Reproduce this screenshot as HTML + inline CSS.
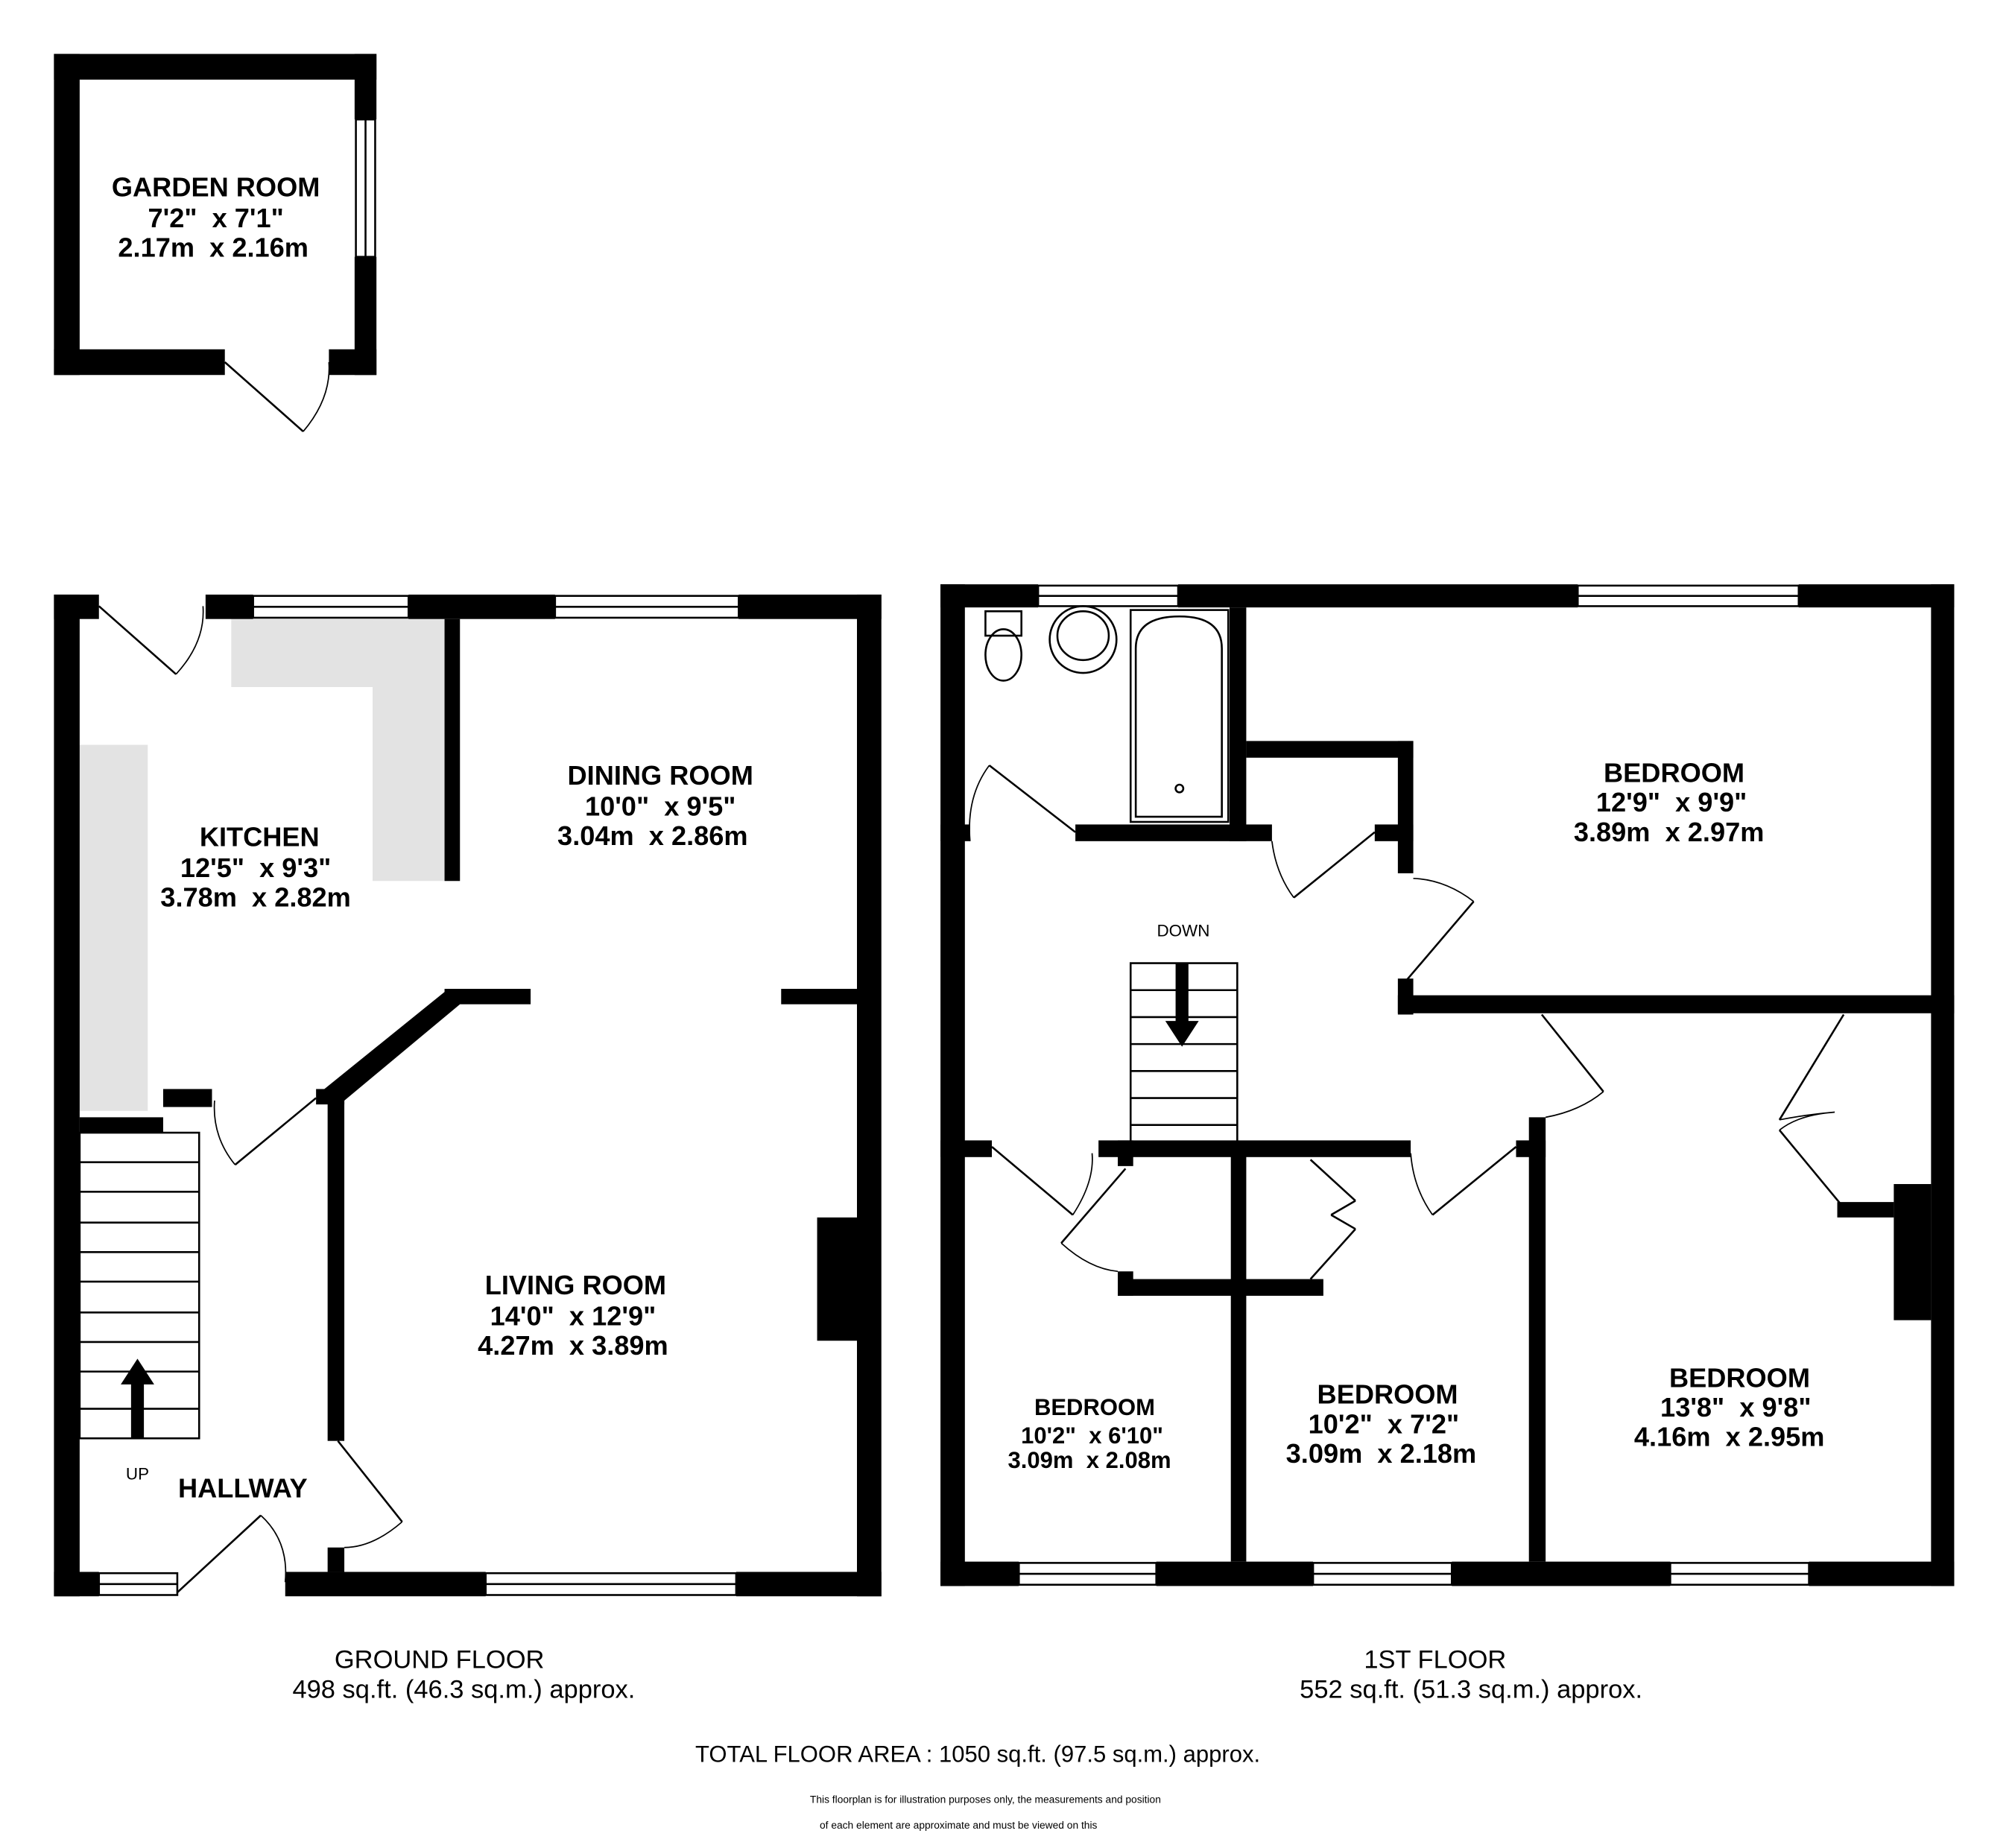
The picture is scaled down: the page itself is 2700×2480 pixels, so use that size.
<!DOCTYPE html>
<html><head><meta charset="utf-8"><style>
html,body{margin:0;padding:0;background:#fff;}
svg{display:block}
text{font-family:"Liberation Sans",Arial,sans-serif;text-anchor:middle;fill:#000;white-space:pre}
.b{font-weight:bold;font-size:21px}
.n{font-size:20px}
</style></head><body>
<svg width="2700" height="2480" viewBox="0 0 1566 1439" preserveAspectRatio="none" xmlns="http://www.w3.org/2000/svg" xml:space="preserve">
<rect width="1566" height="1439" fill="#fff"/>
<g fill="#000">
<rect x="42" y="42" width="251" height="20"/>
<rect x="42" y="42" width="20" height="250"/>
<rect x="276" y="42" width="17" height="51"/>
<rect x="276" y="200" width="17" height="92"/>
<rect x="42" y="272" width="133" height="20"/>
<rect x="256" y="272" width="37" height="20"/>
</g>
<g fill="none" stroke="#000" stroke-width="1.5">
<rect x="277" y="93" width="15" height="107"/><line x1="284.5" y1="93" x2="284.5" y2="200"/>
<line x1="175" y1="282" x2="236" y2="336"/>
<path d="M236 336 Q258 310 256 282" stroke-width="1"/>
</g>
<text class="b" x="168" y="153">GARDEN ROOM</text>
<text class="b" x="168" y="177">7'2"  x 7'1"</text>
<text class="b" x="166" y="200">2.17m  x 2.16m</text>

<rect x="180" y="482" width="166" height="53" fill="#e3e3e3"/>
<rect x="290" y="482" width="56" height="204" fill="#e3e3e3"/>
<rect x="62" y="580" width="53" height="285" fill="#e3e3e3"/>
<g fill="#000">
<rect x="42" y="463" width="35" height="19"/>
<rect x="160" y="463" width="37" height="19"/>
<rect x="318" y="463" width="114" height="19"/>
<rect x="575" y="463" width="111" height="19"/>
<rect x="42" y="463" width="20" height="780"/>
<rect x="667" y="463" width="19" height="780"/>
<rect x="42" y="1224" width="35" height="19"/>
<rect x="222" y="1224" width="156" height="19"/>
<rect x="573" y="1224" width="113" height="19"/>
<rect x="346" y="482" width="12" height="204"/>
<rect x="346" y="770" width="67" height="12"/>
<polygon points="349,770 358,782 262,862 250,850"/>
<rect x="255" y="850" width="13" height="272"/>
<rect x="255" y="1205" width="13" height="19"/>
<rect x="608" y="770" width="59" height="12"/>
<rect x="636" y="948" width="31" height="96"/>
<rect x="62" y="870" width="65" height="12"/>
<rect x="127" y="848" width="38" height="14"/>
<rect x="246" y="848" width="22" height="12"/>
</g>
<g fill="none" stroke="#000" stroke-width="1.5">
<rect x="197" y="464" width="121" height="17"/><line x1="197" y1="472.5" x2="318" y2="472.5"/>
<rect x="432" y="464" width="143" height="17"/><line x1="432" y1="472.5" x2="575" y2="472.5"/>
<rect x="77" y="1225" width="61" height="17"/><line x1="77" y1="1233.5" x2="138" y2="1233.5"/>
<rect x="378" y="1225" width="195" height="17"/><line x1="378" y1="1233.5" x2="573" y2="1233.5"/>
<line x1="77" y1="472" x2="137" y2="525"/><path d="M137 525 Q160 500 158 472" stroke-width="1"/>
<line x1="183" y1="907" x2="246" y2="855"/><path d="M183 907 Q165 885 167 857" stroke-width="1"/>
<line x1="138" y1="1240" x2="203" y2="1180"/><path d="M203 1180 Q225 1200 222 1232" stroke-width="1"/>
<line x1="263" y1="1122" x2="313" y2="1185"/><path d="M313 1185 Q290 1205 268 1205" stroke-width="1"/>
<rect x="62" y="882" width="93" height="238"/>
<line x1="62" y1="905" x2="155" y2="905"/><line x1="62" y1="928" x2="155" y2="928"/>
<line x1="62" y1="952" x2="155" y2="952"/><line x1="62" y1="975" x2="155" y2="975"/>
<line x1="62" y1="998" x2="155" y2="998"/><line x1="62" y1="1022" x2="155" y2="1022"/>
<line x1="62" y1="1045" x2="155" y2="1045"/><line x1="62" y1="1068" x2="155" y2="1068"/>
<line x1="62" y1="1097" x2="155" y2="1097"/>
</g>
<polygon points="107,1058 120,1078 112,1078 112,1120 102,1120 102,1078 94,1078" fill="#000"/>
<text class="b" x="202" y="659">KITCHEN</text>
<text class="b" x="199" y="683">12'5"  x 9'3"</text>
<text class="b" x="199" y="706">3.78m  x 2.82m</text>
<text class="b" x="514" y="611">DINING ROOM</text>
<text class="b" x="514" y="635">10'0"  x 9'5"</text>
<text class="b" x="508" y="658">3.04m  x 2.86m</text>
<text class="b" x="448" y="1008">LIVING ROOM</text>
<text class="b" x="446" y="1032">14'0"  x 12'9"</text>
<text class="b" x="446" y="1055">4.27m  x 3.89m</text>
<text class="b" x="189" y="1166">HALLWAY</text>
<text x="107" y="1152" style="font-size:13px">UP</text>

<g fill="#000">
<rect x="732" y="455" width="76" height="18"/>
<rect x="917" y="455" width="311" height="18"/>
<rect x="1400" y="455" width="121" height="18"/>
<rect x="732" y="455" width="19" height="780"/>
<rect x="1503" y="455" width="18" height="780"/>
<rect x="732" y="1216" width="61" height="19"/>
<rect x="900" y="1216" width="122" height="19"/>
<rect x="1130" y="1216" width="170" height="19"/>
<rect x="1408" y="1216" width="113" height="19"/>
<rect x="837" y="642" width="153" height="13"/>
<rect x="957" y="473" width="13" height="182"/>
<rect x="732" y="642" width="23" height="13"/>
<rect x="970" y="577" width="130" height="13"/>
<rect x="1088" y="577" width="12" height="103"/>
<rect x="1070" y="642" width="30" height="13"/>
<rect x="1088" y="762" width="12" height="28"/>
<rect x="1088" y="775" width="433" height="14"/>
<rect x="1190" y="870" width="13" height="346"/>
<rect x="1180" y="888" width="23" height="13"/>
<rect x="732" y="888" width="40" height="13"/>
<rect x="855" y="888" width="243" height="13"/>
<rect x="870" y="888" width="12" height="20"/>
<rect x="958" y="895" width="12" height="321"/>
<rect x="870" y="996" width="160" height="13"/>
<rect x="870" y="990" width="12" height="19"/>
<rect x="1474" y="922" width="29" height="106"/>
<rect x="1430" y="936" width="44" height="12"/>
</g>
<g fill="none" stroke="#000" stroke-width="1.5">
<rect x="808" y="456" width="109" height="16"/><line x1="808" y1="464" x2="917" y2="464"/>
<rect x="1228" y="456" width="172" height="16"/><line x1="1228" y1="464" x2="1400" y2="464"/>
<rect x="793" y="1217" width="107" height="17"/><line x1="793" y1="1225.5" x2="900" y2="1225.5"/>
<rect x="1022" y="1217" width="108" height="17"/><line x1="1022" y1="1225.5" x2="1130" y2="1225.5"/>
<rect x="1300" y="1217" width="108" height="17"/><line x1="1300" y1="1225.5" x2="1408" y2="1225.5"/>
<path d="M767 476 L795 476 L795 495 L767 495 Z"/>
<ellipse cx="781" cy="510" rx="14" ry="20"/>
<ellipse cx="843" cy="498" rx="26" ry="26"/><ellipse cx="843" cy="495" rx="20" ry="19"/>
<rect x="880" y="475" width="76" height="165"/>
<path d="M884 636 L884 505 Q884 480 918 480 Q951 480 951 505 L951 636 Z"/>
<circle cx="918" cy="614" r="3"/>
<line x1="837" y1="648" x2="770" y2="596"/><path d="M770 596 Q752 620 755 655" stroke-width="1"/>
<line x1="1007" y1="699" x2="1070" y2="648"/><path d="M1007 699 Q993 680 990 655" stroke-width="1"/>
<line x1="1095" y1="763" x2="1147" y2="702"/><path d="M1147 702 Q1125 685 1100 684" stroke-width="1"/>
<line x1="1248" y1="850" x2="1200" y2="790"/><path d="M1203 870 Q1230 865 1248 850" stroke-width="1"/>
<line x1="1385" y1="872" x2="1435" y2="790"/><line x1="1385" y1="880" x2="1433" y2="938"/>
<path d="M1385 872 Q1405 868 1428 866 Q1400 868 1385 880" stroke-width="1"/>
<line x1="772" y1="893" x2="835" y2="946"/><path d="M835 946 Q852 920 850 898" stroke-width="1"/>
<line x1="876" y1="910" x2="826" y2="968"/><path d="M826 968 Q848 988 870 990" stroke-width="1"/>
<line x1="1115" y1="946" x2="1180" y2="893"/><path d="M1115 946 Q1100 925 1098 898" stroke-width="1"/>
<line x1="1020" y1="903" x2="1055" y2="935"/><line x1="1055" y1="935" x2="1036" y2="946"/>
<line x1="1020" y1="996" x2="1055" y2="957"/><line x1="1055" y1="957" x2="1036" y2="946"/>
<rect x="880" y="750" width="83" height="140"/>
<line x1="880" y1="771" x2="963" y2="771"/><line x1="880" y1="792" x2="963" y2="792"/>
<line x1="880" y1="813" x2="963" y2="813"/><line x1="880" y1="834" x2="963" y2="834"/>
<line x1="880" y1="855" x2="963" y2="855"/><line x1="880" y1="876" x2="963" y2="876"/>
</g>
<polygon points="915,750 925,750 925,795 933,795 920,815 907,795 915,795" fill="#000"/>
<text x="921" y="729" style="font-size:13px">DOWN</text>
<text class="b" x="1303" y="609">BEDROOM</text>
<text class="b" x="1301" y="632">12'9"  x 9'9"</text>
<text class="b" x="1299" y="655">3.89m  x 2.97m</text>
<text class="b" x="852" y="1102" style="font-size:18px">BEDROOM</text>
<text class="b" x="850" y="1124" style="font-size:18px">10'2"  x 6'10"</text>
<text class="b" x="848" y="1143" style="font-size:18px">3.09m  x 2.08m</text>
<text class="b" x="1080" y="1093">BEDROOM</text>
<text class="b" x="1077" y="1116">10'2"  x 7'2"</text>
<text class="b" x="1075" y="1139">3.09m  x 2.18m</text>
<text class="b" x="1354" y="1080">BEDROOM</text>
<text class="b" x="1351" y="1103">13'8"  x 9'8"</text>
<text class="b" x="1346" y="1126">4.16m  x 2.95m</text>

<text class="n" x="342" y="1299">GROUND FLOOR</text>
<text class="n" x="361" y="1322">498 sq.ft. (46.3 sq.m.) approx.</text>
<text class="n" x="1117" y="1299">1ST FLOOR</text>
<text class="n" x="1145" y="1322">552 sq.ft. (51.3 sq.m.) approx.</text>
<text class="n" x="761" y="1372" style="font-size:18px">TOTAL FLOOR AREA : 1050 sq.ft. (97.5 sq.m.) approx.</text>
<text x="767" y="1404" style="font-size:8px">This floorplan is for illustration purposes only, the measurements and position</text>
<text x="746" y="1424" style="font-size:8px">of each element are approximate and must be viewed on this</text>
</svg>
</body></html>
